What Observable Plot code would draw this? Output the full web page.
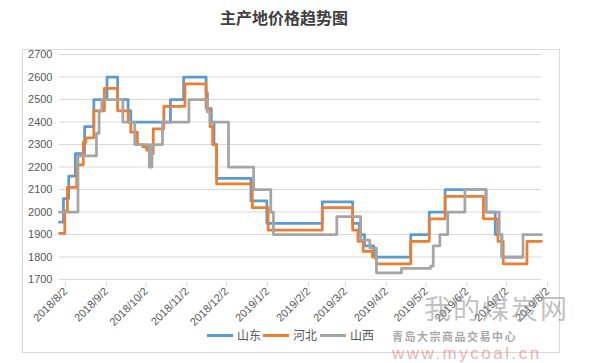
<!DOCTYPE html>
<html><head><meta charset="utf-8">
<script src="https://cdn.jsdelivr.net/npm/d3@7"></script>
<script src="https://cdn.jsdelivr.net/npm/@observablehq/plot@0.6"></script>
<style>
body{margin:0;background:#fff;}
#wrap{position:relative;width:600px;height:363px;overflow:hidden;background:#fff;}
#chart{position:absolute;left:0;top:0;}
#title{position:absolute;left:0;width:568px;top:8px;text-align:center;font-family:"Noto Sans CJK SC",sans-serif;font-weight:bold;font-size:16px;line-height:18px;color:#404040;}
#frame{position:absolute;left:22px;top:49px;width:538px;height:304px;box-sizing:border-box;border:1px solid #d9d9d9;}
.sym{position:absolute;height:3px;width:26px;top:334px;}
.lt{position:absolute;top:327px;font-family:"Noto Sans CJK SC",sans-serif;font-size:12px;line-height:16px;color:#595959;}
.wm{position:absolute;font-family:"Noto Sans CJK SC",sans-serif;white-space:nowrap;line-height:normal;}
</style></head><body>
<div id="wrap">
<div id="frame"></div>
<div id="chart"></div>
<div id="title">主产地价格趋势图</div>
<div id="legend"></div>
<div class="wm" style="left:424px;top:288px;font-size:27px;letter-spacing:2px;color:rgba(140,140,140,0.55);">我的煤炭网</div>
<div class="wm" style="left:392px;top:328px;font-size:11px;font-weight:bold;letter-spacing:1.5px;color:rgba(90,90,90,0.55);">青岛大宗商品交易中心</div>
<div class="wm" style="left:392px;top:344px;font-size:17px;letter-spacing:2.5px;font-family:'Liberation Sans',sans-serif;color:rgba(215,110,110,0.55);">www.mycoal.cn</div>
</div>
<script>
const seriesNames = ["山东", "河北", "山西"];
const seriesColors = ["#5B9BD5", "#ED7D31", "#A5A5A5"];
const yTicks = [1700, 1800, 1900, 2000, 2100, 2200, 2300, 2400, 2500, 2600, 2700];
const xTicks = ["2018-08-02","2018-09-02","2018-10-02","2018-11-02","2018-12-02","2019-01-02","2019-02-02","2019-03-02","2019-04-02","2019-05-02","2019-06-02","2019-07-02","2019-08-02"];

// [date, price] at each price change
const shandong = [
 ["2018-08-02",1955],["2018-08-05",2060],["2018-08-09",2160],["2018-08-14",2260],["2018-08-21",2380],
 ["2018-08-28",2500],["2018-09-07",2600],["2018-09-15",2500],["2018-09-23",2450],["2018-09-25",2400],
 ["2018-10-25",2500],["2018-11-04",2600],["2018-11-21",2530],["2018-11-22",2460],["2018-11-25",2400],
 ["2018-11-27",2300],["2018-11-29",2150],["2018-12-25",2050],["2019-01-06",1950],["2019-02-17",2045],
 ["2019-03-12",1950],["2019-03-17",1900],["2019-03-21",1850],["2019-03-28",1800],["2019-04-25",1900],
 ["2019-05-09",2000],["2019-05-21",2100],["2019-06-21",2000],["2019-06-28",1900],["2019-07-03",1800],
 ["2019-07-19",1800]
];
const hebei = [
 ["2018-08-02",1905],["2018-08-06",2005],["2018-08-08",2110],["2018-08-15",2210],["2018-08-20",2310],
 ["2018-08-22",2330],["2018-08-28",2450],["2018-09-05",2550],["2018-09-15",2450],["2018-09-23",2400],
 ["2018-09-25",2355],["2018-09-30",2300],["2018-10-04",2290],["2018-10-07",2275],["2018-10-09",2260],
 ["2018-10-12",2370],["2018-10-20",2470],["2018-11-05",2570],["2018-11-21",2460],["2018-11-24",2380],
 ["2018-11-26",2300],["2018-11-29",2125],["2018-12-26",2020],["2019-01-07",1920],["2019-02-17",2020],
 ["2019-03-12",1920],["2019-03-16",1870],["2019-03-20",1825],["2019-03-27",1800],["2019-03-30",1770],
 ["2019-04-25",1870],["2019-05-09",1970],["2019-05-21",2070],["2019-06-19",1970],["2019-06-30",1870],
 ["2019-07-04",1770],["2019-07-22",1870],["2019-08-02",1870]
];
const shanxi = [
 ["2018-08-02",2000],["2018-08-16",2250],["2018-08-30",2350],["2018-09-01",2450],["2018-09-03",2500],
 ["2018-09-19",2400],["2018-09-28",2300],["2018-10-09",2200],["2018-10-11",2300],["2018-10-19",2400],
 ["2018-11-08",2500],["2018-11-22",2445],["2018-11-24",2400],["2018-12-08",2200],["2018-12-27",2100],
 ["2019-01-09",2000],["2019-01-11",1900],["2019-02-28",1980],["2019-03-18",1875],["2019-03-25",1840],
 ["2019-03-30",1730],["2019-04-18",1750],["2019-05-10",1760],["2019-05-12",1850],["2019-05-17",1900],
 ["2019-05-23",2000],["2019-06-05",2100],["2019-06-21",2000],["2019-07-01",1900],["2019-07-03",1800],
 ["2019-07-19",1900],["2019-08-02",1900]
];

const parse = d3.utcParse("%Y-%m-%d");
const rows = [];
[shandong, hebei, shanxi].forEach((s, i) => s.forEach(([d, v]) => rows.push({series: seriesNames[i], date: parse(d), value: v})));
const xTickDates = xTicks.map(parse);
const fmt = d => `${d.getUTCFullYear()}/${d.getUTCMonth() + 1}/${d.getUTCDate()}`;

const chart = Plot.plot({
  width: 600, height: 363,
  marginLeft: 59, marginRight: 59, marginTop: 54, marginBottom: 84,
  style: {fontFamily: "'Liberation Sans', sans-serif", fontSize: "11px", color: "#595959", background: "transparent"},
  x: {type: "utc", domain: [xTickDates[0], xTickDates[xTickDates.length - 1]]},
  y: {domain: [1700, 2700]},
  color: {domain: seriesNames, range: seriesColors},
  marks: [
    Plot.gridY(yTicks, {stroke: "#d9d9d9", strokeOpacity: 1}),
    Plot.ruleY([1700], {stroke: "#d9d9d9"}),
    Plot.axisY(yTicks, {tickSize: 0, tickPadding: 7, tickFormat: d => String(d), fill: "#595959", label: null}),
    Plot.axisX(xTickDates, {tickSize: 5, stroke: "#d9d9d9", tickRotate: -45, tickPadding: 2, dx: 6, dy: 3, tickFormat: fmt, fill: "#595959", label: null}),
    Plot.line(rows, {x: "date", y: "value", z: "series", stroke: "series", strokeWidth: 2.75, curve: "step-after"})
  ]
});
document.getElementById("chart").appendChild(chart);

const legend = document.getElementById("legend");
const symX = [207, 263, 320], txtX = [237, 293, 350];
seriesNames.forEach((n, i) => {
  const s = document.createElement("div");
  s.className = "sym"; s.style.left = symX[i] + "px"; s.style.background = seriesColors[i];
  const t = document.createElement("div");
  t.className = "lt"; t.style.left = txtX[i] + "px"; t.textContent = n;
  legend.appendChild(s); legend.appendChild(t);
});
</script>
</body></html>
